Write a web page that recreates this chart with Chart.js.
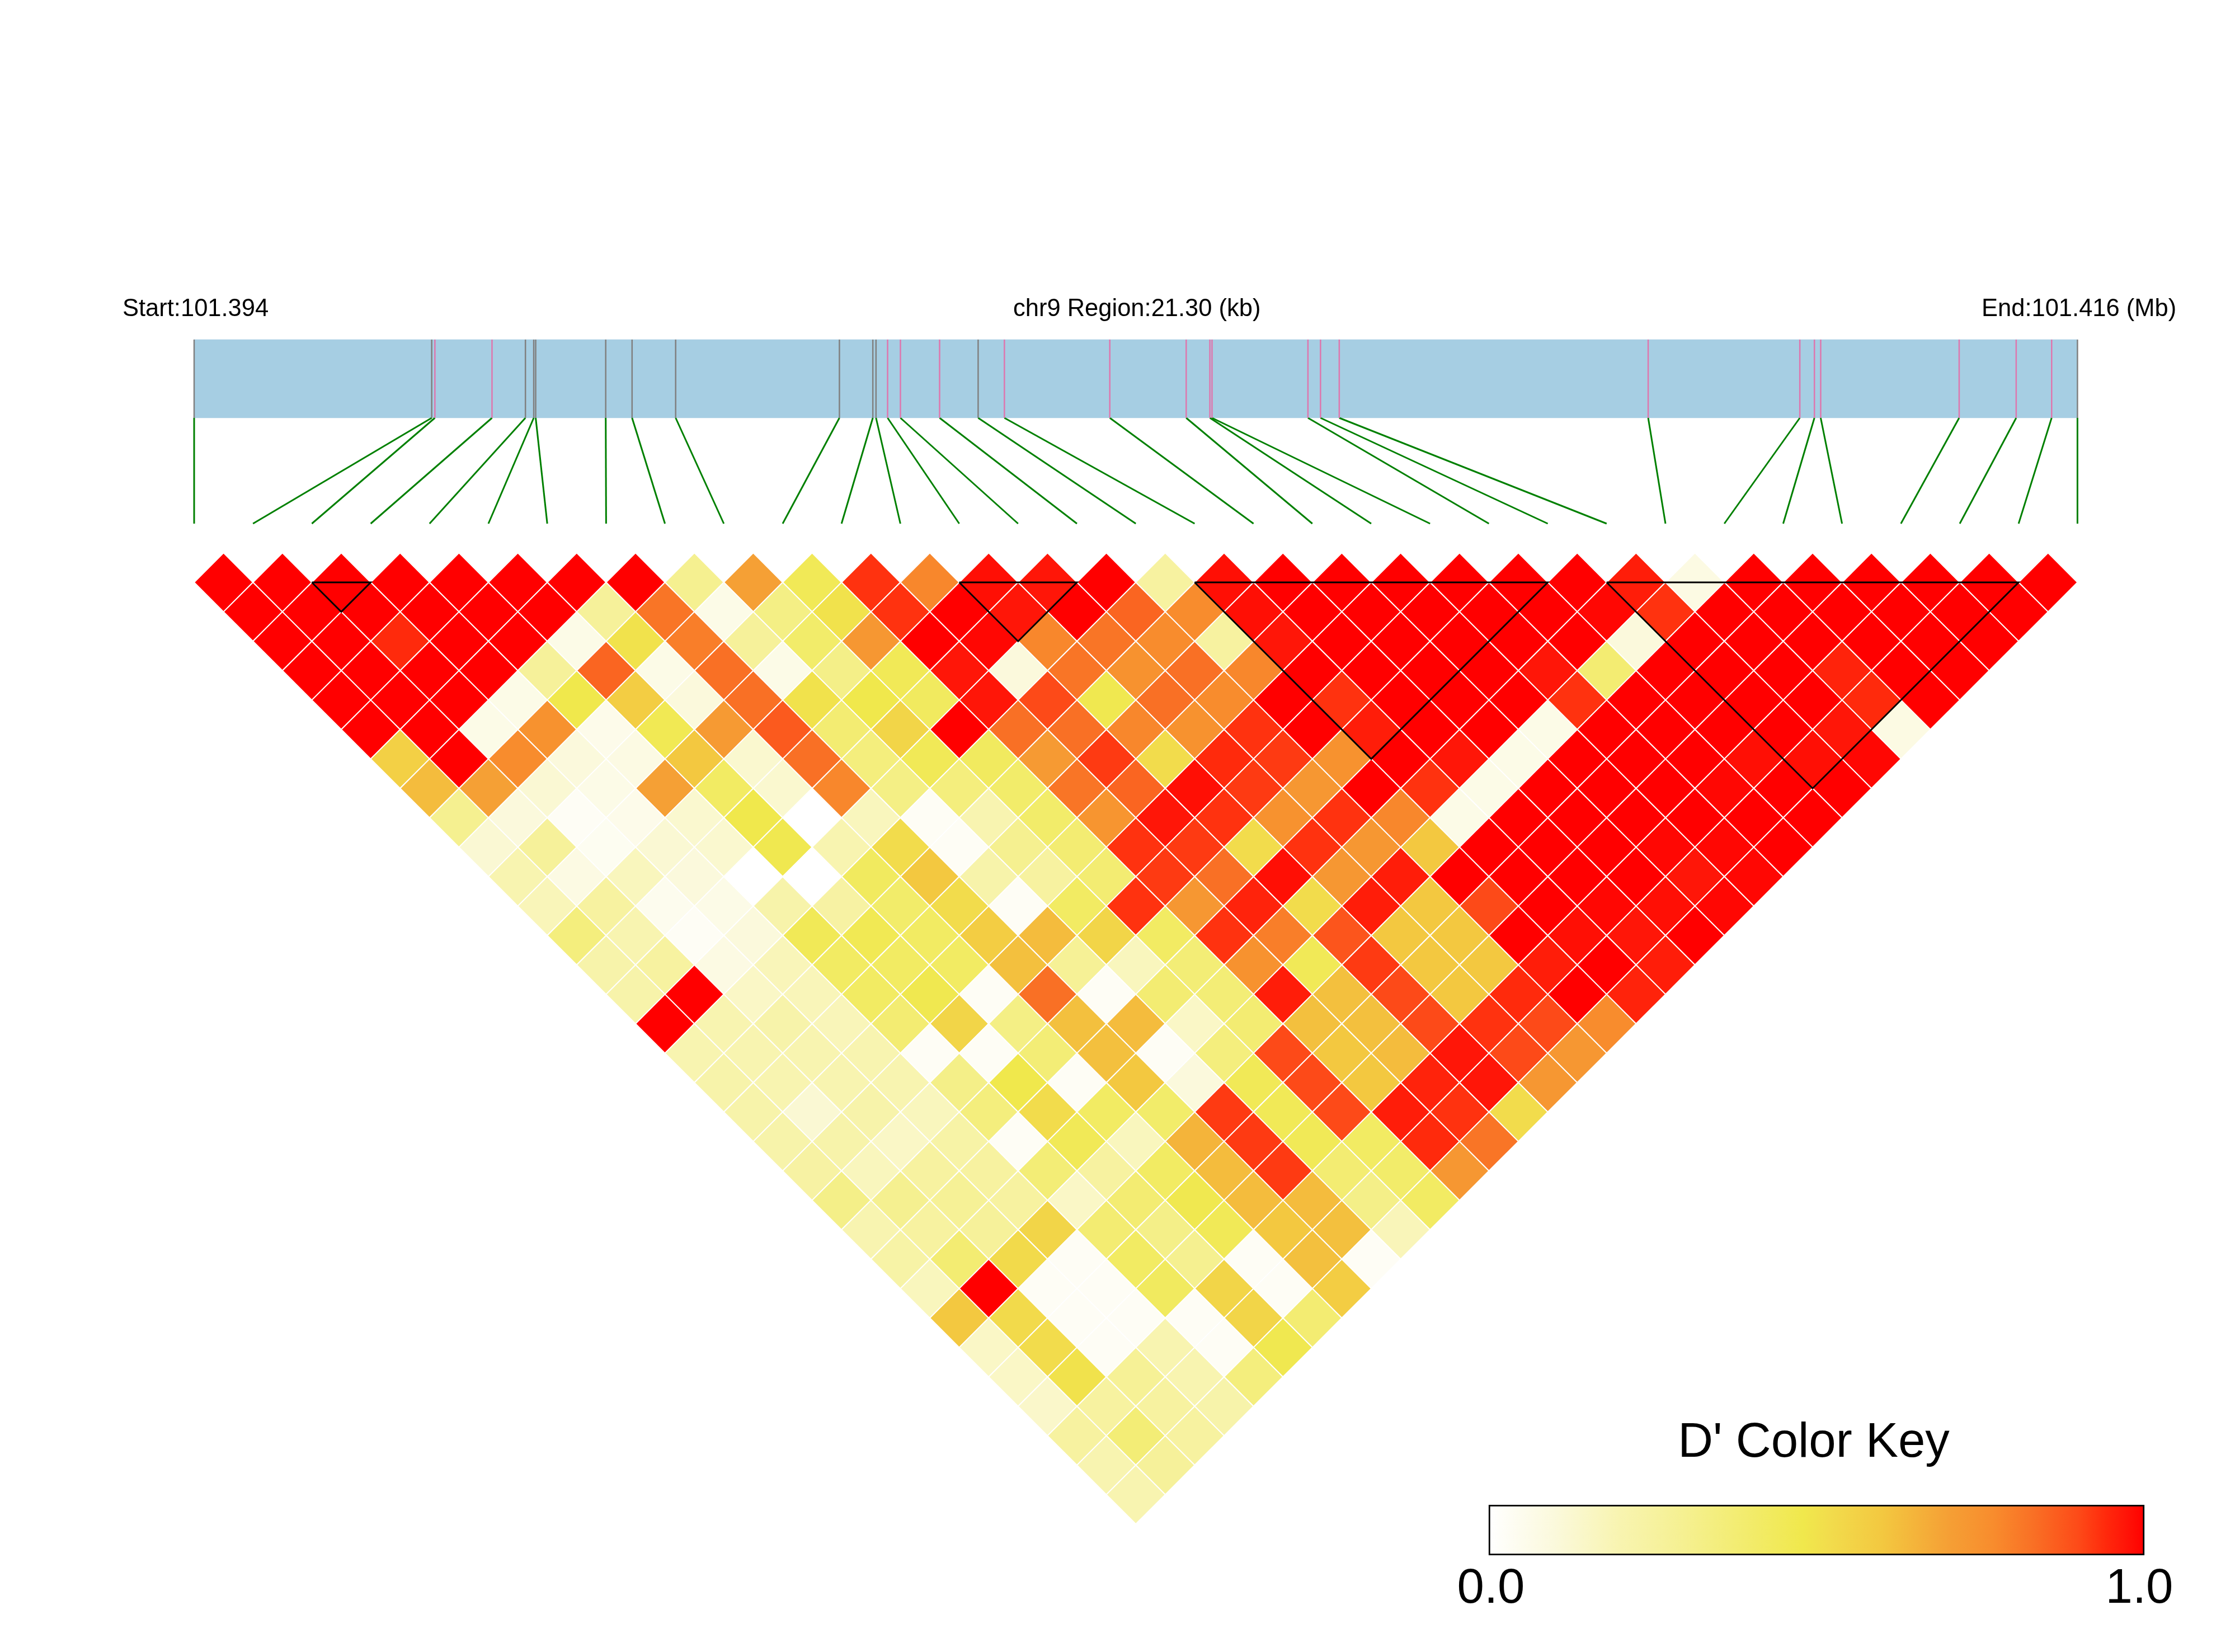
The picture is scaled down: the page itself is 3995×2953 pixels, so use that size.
<!DOCTYPE html>
<html>
<head>
<meta charset="utf-8">
<title>LD heatmap</title>
<script src="https://cdn.jsdelivr.net/npm/chart.js@4"></script>
<style>
  html, body { margin: 0; padding: 0; background: #fff; }
  canvas { display: block; }
</style>
</head>
<body>
<canvas id="myChart" width="3995" height="2953"></canvas>
<script>
// snp positions along the region, kb from the start
const snpKb = [0, 2.687, 2.723, 3.369, 3.747, 3.841, 3.863, 4.655, 4.953, 5.446, 7.298,
  7.676, 7.712, 7.843, 7.988, 8.431, 8.867, 9.164, 10.356, 11.220, 11.488, 11.512,
  12.597, 12.739, 12.951, 16.445, 18.160, 18.325, 18.396, 19.962, 20.607, 21.008, 21.30];
const regionKb = 21.30;
const graySnps = [0, 1, 4, 5, 6, 7, 8, 9, 10, 11, 12, 16, 32];

// D' by snp distance: lagN[i] is the pair (i, i + N)
const lag1 = [1,1,1,1,1,1,1,1,.3,.7,.45,.93,.78,.98,.97,1,.25,.98,1,1,1,1,1,1,.96,.08,1,1,1,1,1,1];
const lag2 = [1,1,1,1,1,1,.27,.82,.07,.33,.5,.93,1,.97,1,.85,.77,.98,1,1,1,1,1,.99,.93,1,1,1,1,1,1];
const lag3 = [1,1,.94,1,1,.07,.5,.8,.27,.4,.73,1,.99,.78,.82,.77,.25,.97,1,1,1,1,1,.1,1,1,1,1,1,1];
const lag4 = [1,1,1,1,.27,.85,.07,.83,.07,.32,.45,.97,.1,.82,.75,.83,.78,1,1,1,1,.97,.38,1,1,1,.95,1,1];
const lag5 = [1,1,1,.07,.48,.58,.1,.83,.5,.48,.43,.97,.9,.47,.83,.77,1,.93,1,1,1,.93,1,1,1,1,.94,1];
const lag6 = [1,1,.07,.75,.06,.46,.72,.87,.38,.55,1,.83,.83,.78,.75,.93,1,.96,1,1,.07,1,1,1,1,.97,.08];
const lag7 = [.57,1,.77,.1,.08,.6,.13,.83,.35,.45,.43,.72,.92,.52,.94,.92,.75,1,.97,.07,1,1,1,.98,.98,.99];
const lag8 = [.63,.7,.12,.07,.7,.42,.13,.78,.33,.35,.4,.82,.85,.98,.92,.73,1,.93,.07,1,1,1,.99,1,1];
const lag9 = [.3,.1,.03,.06,.13,.48,0,.17,.03,.2,.4,.74,.97,.93,.75,.93,.78,.07,1,1,1,1,1,1];
const lag10 = [.12,.27,.04,.12,.13,.47,.2,.52,.03,.3,.38,.93,.92,.52,.93,.73,.6,1,1,1,.99,.99,1];
const lag11 = [.2,.08,.17,.1,0,0,.43,.6,.22,.25,.38,.92,.83,.98,.73,.96,1,1,1,1,.97,.99];
const lag12 = [.18,.25,.05,.07,.22,.24,.4,.52,.03,.42,.93,.73,.95,.52,.96,.6,.9,1,.99,.98,.99];
const lag13 = [.35,.2,.03,.1,.45,.46,.42,.58,.63,.55,.42,.93,.8,.88,.6,.6,1,.98,.97,1];
const lag14 = [.22,.25,.08,.18,.42,.42,.42,.62,.28,.17,.37,.75,.45,.92,.6,.6,.96,1,.96];
const lag15 = [.22,1,.15,.18,.42,.47,.03,.83,.03,.38,.37,.96,.62,.9,.6,.94,1,.95];
const lag16 = [1,.2,.22,.18,.38,.55,.33,.62,.63,.15,.38,.62,.62,.9,.93,.9,.77];
const lag17 = [.2,.2,.2,.2,.03,.03,.37,.62,.03,.35,.9,.6,.63,.97,.9,.73];
const lag18 = [.22,.2,.2,.2,.32,.48,.03,.6,.1,.45,.9,.6,.95,.97,.73];
const lag19 = [.22,.12,.22,.17,.35,.52,.42,.4,.92,.45,.9,.96,.93,.52];
const lag20 = [.22,.22,.15,.23,.03,.45,.17,.65,.92,.45,.42,.94,.82];
const lag21 = [.24,.17,.25,.25,.37,.25,.42,.63,.92,.38,.4,.73];
const lag22 = [.32,.3,.28,.25,.15,.38,.47,.63,.63,.32,.42];
const lag23 = [.2,.25,.27,.55,.38,.32,.45,.6,.62,.18];
const lag24 = [.23,.38,.53,.03,.42,.3,.03,.62,.03];
const lag25 = [.17,1,.03,.03,.43,.55,.03,.58];
const lag26 = [.6,.53,.03,.03,.03,.55,.38];
const lag27 = [.15,.52,.03,.2,.03,.47];
const lag28 = [.15,.5,.28,.2,.35];
const lag29 = [.14,.25,.25,.22];
const lag30 = [.25,.37,.25];
const lag31 = [.2,.27];
const lag32 = [.2];
const lags = [lag1,lag2,lag3,lag4,lag5,lag6,lag7,lag8,lag9,lag10,lag11,lag12,lag13,lag14,lag15,lag16,
  lag17,lag18,lag19,lag20,lag21,lag22,lag23,lag24,lag25,lag26,lag27,lag28,lag29,lag30,lag31,lag32];

// haplotype blocks, first and last snp
const blockStart = [2, 13, 17, 24];
const blockEnd = [3, 15, 23, 31];

const keyTicks = ["0.0", "1.0"];
const keyTitle = "D' Color Key";
const startLabel = "Start:101.394";
const regionLabel = "chr9 Region:21.30 (kb)";
const endLabel = "End:101.416 (Mb)";

// colour ramp of the key
const rampAt = [0, .1, .2, .3, .48, .52, .6, .7, .77, .83, .9, .94, .97, 1];
const rampRgb = [[255,255,255],[251,249,220],[248,244,176],[245,240,144],[240,232,76],[242,220,76],
  [243,200,64],[245,160,53],[248,140,45],[249,112,37],[253,74,24],[255,42,12],[255,22,8],[255,0,0]];

function dColor(v) {
  let k = 0;
  while (k < rampAt.length - 2 && v > rampAt[k + 1]) k++;
  const t = (v - rampAt[k]) / (rampAt[k + 1] - rampAt[k]);
  const c = rampRgb[k].map((a, n) => Math.round(a + (rampRgb[k + 1][n] - a) * t));
  return "rgb(" + c.join(",") + ")";
}

// layout in page pixels
const W = 3995, H = 2953;
const left = 347, step = 105.2, firstRowY = 1041, rowStep = 52.6;
const trackTop = 607, trackBottom = 747, greenBottom = 936;
const keyLeft = 2661, keyRight = 3833, keyTop = 2690, keyBottom = 2780;

const kbToSnp = kb => kb / regionKb * (snpKb.length - 1);

const cells = [];
lags.forEach((row, n) => row.forEach((v, i) => {
  cells.push({ x: i + (n + 1) / 2, y: n + 1, v: v });
}));

const datasets = [];

// black outlines of the blocks go on top
blockStart.forEach((a, n) => {
  const b = blockEnd[n];
  datasets.push({
    type: 'line', order: 0, xAxisID: 'x', yAxisID: 'yRow',
    data: [{ x: a, y: 1 }, { x: b, y: 1 }, { x: (a + b) / 2, y: 1 + b - a }, { x: a, y: 1 }],
    borderColor: '#000', borderWidth: 3, pointRadius: 0, fill: false, tension: 0
  });
});

datasets.push({
  type: 'scatter', order: 1, xAxisID: 'x', yAxisID: 'yRow', data: cells, clip: false,
  pointStyle: 'rectRot', pointRadius: rowStep, pointHoverRadius: rowStep,
  backgroundColor: c => c.raw ? dColor(c.raw.v) : '#fff', borderColor: '#fff', borderWidth: 2
});

// snp ticks on the region bar and the green connectors
snpKb.forEach((kb, i) => {
  datasets.push({
    type: 'line', order: 2, xAxisID: 'x', yAxisID: 'yPx',
    data: [{ x: kbToSnp(kb), y: trackTop }, { x: kbToSnp(kb), y: trackBottom }],
    borderColor: graySnps.includes(i) ? '#808080' : '#DE77AE', borderWidth: 2.5, pointRadius: 0
  });
  datasets.push({
    type: 'line', order: 2, xAxisID: 'x', yAxisID: 'yPx',
    data: [{ x: kbToSnp(kb), y: trackBottom }, { x: i, y: greenBottom }],
    borderColor: '#008000', borderWidth: 3, pointRadius: 0
  });
});

datasets.push({
  type: 'bar', order: 3, xAxisID: 'x', yAxisID: 'yPx', grouped: false,
  data: [{ x: (snpKb.length - 1) / 2, y: [trackTop, trackBottom] }],
  barThickness: step * (snpKb.length - 1), backgroundColor: '#A6CEE3', borderWidth: 0
});

let keyFill = null;
function keyGradient(c) {
  if (!keyFill) {
    keyFill = c.chart.ctx.createLinearGradient(keyLeft, 0, keyRight, 0);
    rampAt.forEach(a => keyFill.addColorStop(a, dColor(a)));
  }
  return keyFill;
}

datasets.push({
  type: 'bar', order: 3, xAxisID: 'xKey', yAxisID: 'yPx', grouped: false,
  data: [{ x: 0.5, y: [keyTop, keyBottom] }],
  barThickness: keyRight - keyLeft,
  backgroundColor: keyGradient,
  borderColor: '#000', borderWidth: 3, borderSkipped: false
});

const textPlugin = {
  id: 'texts',
  afterDraw(chart) {
    const ctx = chart.ctx;
    ctx.save();
    ctx.fillStyle = '#000';
    ctx.textBaseline = 'alphabetic';
    ctx.font = '43.5px "Liberation Sans"';
    ctx.textAlign = 'left';
    ctx.fillText(startLabel, 219, 565);
    ctx.fillText(regionLabel, 1811, 565);
    ctx.fillText(endLabel, 3542, 565);
    ctx.font = '87px "Liberation Sans"';
    ctx.textAlign = 'center';
    ctx.fillText(keyTitle, 3242, 2604);
    const s = chart.scales.xKey;
    ctx.fillText(keyTicks[0], s.getPixelForValue(0) + 4, 2865);
    ctx.fillText(keyTicks[1], s.getPixelForValue(1) - 9, 2865);
    ctx.restore();
  }
};

new Chart(document.getElementById('myChart'), {
  type: 'scatter',
  data: { datasets: datasets },
  plugins: [textPlugin],
  options: {
    responsive: false,
    devicePixelRatio: 1,
    animation: false,
    events: [],
    layout: { padding: 0, autoPadding: false },
    plugins: { legend: { display: false }, title: { display: false }, tooltip: { enabled: false } },
    scales: {
      x: { type: 'linear', display: false, offset: false, min: -left / step, max: (W - left) / step },
      xKey: {
        type: 'linear', display: false, offset: false,
        min: -keyLeft / (keyRight - keyLeft), max: (W - keyLeft) / (keyRight - keyLeft)
      },
      yRow: {
        type: 'linear', display: false, reverse: true,
        min: 1 - firstRowY / rowStep, max: 1 + (H - firstRowY) / rowStep
      },
      yPx: { type: 'linear', display: false, reverse: true, min: 0, max: H }
    }
  }
});
</script>
</body>
</html>
